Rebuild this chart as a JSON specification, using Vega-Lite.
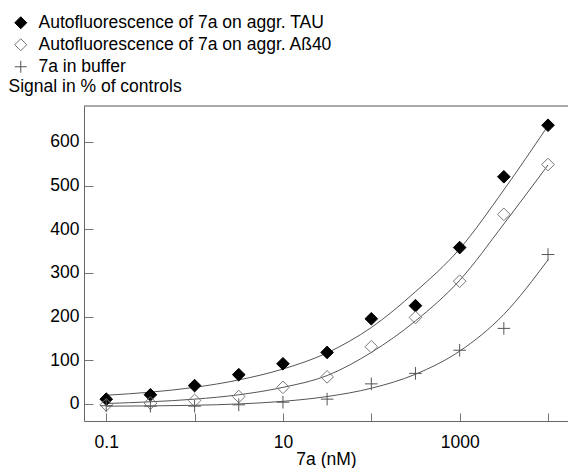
{
  "$schema": "https://vega.github.io/schema/vega-lite/v6.json",
  "width": 484,
  "height": 315,
  "autosize": {"type": "none"},
  "padding": {"left": 84, "top": 106, "right": 0, "bottom": 47},
  "background": "white",
  "config": {
    "view": {"stroke": null},
    "font": "Liberation Sans",
    "axis": {
      "grid": false,
      "domainColor": "#666666",
      "domainWidth": 1,
      "tickColor": "#777777",
      "tickWidth": 1,
      "labelColor": "#000000",
      "titleColor": "#000000",
      "labelFont": "Liberation Sans",
      "titleFont": "Liberation Sans",
      "labelFontSize": 17.5,
      "titleFontSize": 17.5,
      "titleFontWeight": "normal"
    },
    "legend": {
      "labelFont": "Liberation Sans",
      "labelFontSize": 17.5,
      "labelColor": "#000000",
      "labelLimit": 0
    }
  },
  "datasets": {
    "points": [
      {"series": "TAU", "conc": 0.1, "value": 11},
      {"series": "TAU", "conc": 0.316, "value": 21},
      {"series": "TAU", "conc": 1, "value": 42},
      {"series": "TAU", "conc": 3.16, "value": 67},
      {"series": "TAU", "conc": 10, "value": 92},
      {"series": "TAU", "conc": 31.6, "value": 118},
      {"series": "TAU", "conc": 100, "value": 195},
      {"series": "TAU", "conc": 316, "value": 225},
      {"series": "TAU", "conc": 1000, "value": 358},
      {"series": "TAU", "conc": 3162, "value": 520},
      {"series": "TAU", "conc": 10000, "value": 638},
      {"series": "AB40", "conc": 0.1, "value": -2},
      {"series": "AB40", "conc": 0.316, "value": 2},
      {"series": "AB40", "conc": 1, "value": 8},
      {"series": "AB40", "conc": 3.16, "value": 17},
      {"series": "AB40", "conc": 10, "value": 38},
      {"series": "AB40", "conc": 31.6, "value": 62},
      {"series": "AB40", "conc": 100, "value": 131},
      {"series": "AB40", "conc": 316, "value": 198},
      {"series": "AB40", "conc": 1000, "value": 281},
      {"series": "AB40", "conc": 3162, "value": 434},
      {"series": "AB40", "conc": 10000, "value": 548},
      {"series": "buffer", "conc": 0.1, "value": -4},
      {"series": "buffer", "conc": 0.316, "value": -5},
      {"series": "buffer", "conc": 1, "value": -5},
      {"series": "buffer", "conc": 3.16, "value": -2},
      {"series": "buffer", "conc": 10, "value": 4},
      {"series": "buffer", "conc": 31.6, "value": 11},
      {"series": "buffer", "conc": 100, "value": 46},
      {"series": "buffer", "conc": 316, "value": 70},
      {"series": "buffer", "conc": 1000, "value": 123},
      {"series": "buffer", "conc": 3162, "value": 173},
      {"series": "buffer", "conc": 10000, "value": 342}
    ],
    "fits": [
      {"series": "TAU", "conc": 0.1, "value": 20},
      {"series": "TAU", "conc": 0.316, "value": 27},
      {"series": "TAU", "conc": 1, "value": 38},
      {"series": "TAU", "conc": 3.16, "value": 55},
      {"series": "TAU", "conc": 10, "value": 80},
      {"series": "TAU", "conc": 31.6, "value": 117},
      {"series": "TAU", "conc": 100, "value": 175},
      {"series": "TAU", "conc": 316, "value": 257},
      {"series": "TAU", "conc": 1000, "value": 355},
      {"series": "TAU", "conc": 3162, "value": 490},
      {"series": "TAU", "conc": 10000, "value": 637},
      {"series": "AB40", "conc": 0.1, "value": 1},
      {"series": "AB40", "conc": 0.316, "value": 5},
      {"series": "AB40", "conc": 1, "value": 11},
      {"series": "AB40", "conc": 3.16, "value": 21},
      {"series": "AB40", "conc": 10, "value": 38},
      {"series": "AB40", "conc": 31.6, "value": 65},
      {"series": "AB40", "conc": 100, "value": 118},
      {"series": "AB40", "conc": 316, "value": 190},
      {"series": "AB40", "conc": 1000, "value": 283},
      {"series": "AB40", "conc": 3162, "value": 412},
      {"series": "AB40", "conc": 10000, "value": 547},
      {"series": "buffer", "conc": 0.1, "value": -5},
      {"series": "buffer", "conc": 0.316, "value": -4.5},
      {"series": "buffer", "conc": 1, "value": -3},
      {"series": "buffer", "conc": 3.16, "value": 0},
      {"series": "buffer", "conc": 10, "value": 6},
      {"series": "buffer", "conc": 31.6, "value": 17},
      {"series": "buffer", "conc": 100, "value": 36},
      {"series": "buffer", "conc": 316, "value": 68},
      {"series": "buffer", "conc": 1000, "value": 121},
      {"series": "buffer", "conc": 3162, "value": 205},
      {"series": "buffer", "conc": 10000, "value": 330}
    ]
  },
  "layer": [
    {
      "data": {"name": "fits"},
      "mark": {"type": "line", "color": "#555555", "strokeWidth": 1, "interpolate": "monotone"},
      "encoding": {
        "x": {
          "field": "conc", "type": "quantitative",
          "scale": {"type": "log", "domain": [0.056, 16830]},
          "axis": {
            "title": "7a  (nM)",
            "values": [0.1, 1, 10, 100, 1000, 10000],
            "labelExpr": "datum.value == 0.1 ? '0.1' : datum.value == 10 ? '10' : datum.value == 1000 ? '1000' : ''",
            "tickSize": -8,
            "labelPadding": 20,
            "titlePadding": 0
          }
        },
        "y": {
          "field": "value", "type": "quantitative",
          "scale": {"domain": [-39, 682], "nice": false, "zero": false},
          "axis": {
            "title": "Signal in % of controls",
            "values": [0, 50, 100, 150, 200, 250, 300, 350, 400, 450, 500, 550, 600, 650],
            "labelExpr": "datum.value % 100 == 0 ? datum.label : ''",
            "tickSize": -9,
            "labelPadding": 14,
            "titleAngle": 0,
            "titleAlign": "left",
            "titleBaseline": "alphabetic",
            "titleX": -76,
            "titleY": -15
          }
        },
        "detail": {"field": "series"}
      }
    },
    {
      "data": {"name": "points"},
      "mark": {"type": "point", "opacity": 1, "strokeWidth": 1, "size": 160},
      "encoding": {
        "x": {"field": "conc", "type": "quantitative", "scale": {"type": "log", "domain": [0.056, 16830]}},
        "y": {"field": "value", "type": "quantitative", "scale": {"domain": [-39, 682], "nice": false, "zero": false}},
        "shape": {
          "field": "series", "type": "nominal",
          "scale": {"domain": ["TAU", "AB40", "buffer"], "range": ["diamond", "diamond", "M-1,0L1,0M0,-1L0,1"]},
          "legend": {
            "title": null,
            "orient": "none",
            "legendX": -72,
            "legendY": -92,
            "direction": "vertical",
            "padding": 0,
            "symbolSize": 144,
            "symbolStrokeWidth": 1,
            "labelOffset": 9,
            "labelLimit": 0,
            "rowPadding": 3,
            "labelExpr": "datum.value == 'TAU' ? 'Autofluorescence of 7a on aggr. TAU' : datum.value == 'AB40' ? 'Autofluorescence of 7a on aggr. Aß40' : '7a in buffer'"
          }
        },
        "fill": {
          "field": "series", "type": "nominal",
          "scale": {"domain": ["TAU", "AB40", "buffer"], "range": ["#000000", "transparent", "transparent"]}
        },
        "stroke": {
          "field": "series", "type": "nominal",
          "scale": {"domain": ["TAU", "AB40", "buffer"], "range": ["#000000", "#777777", "#555555"]}
        }
      }
    },
    {
      "data": {"values": [{}]},
      "mark": {"type": "rule", "color": "#555555", "strokeWidth": 1},
      "encoding": {
        "y": {"datum": 682, "type": "quantitative"}
      }
    }
  ]
}
